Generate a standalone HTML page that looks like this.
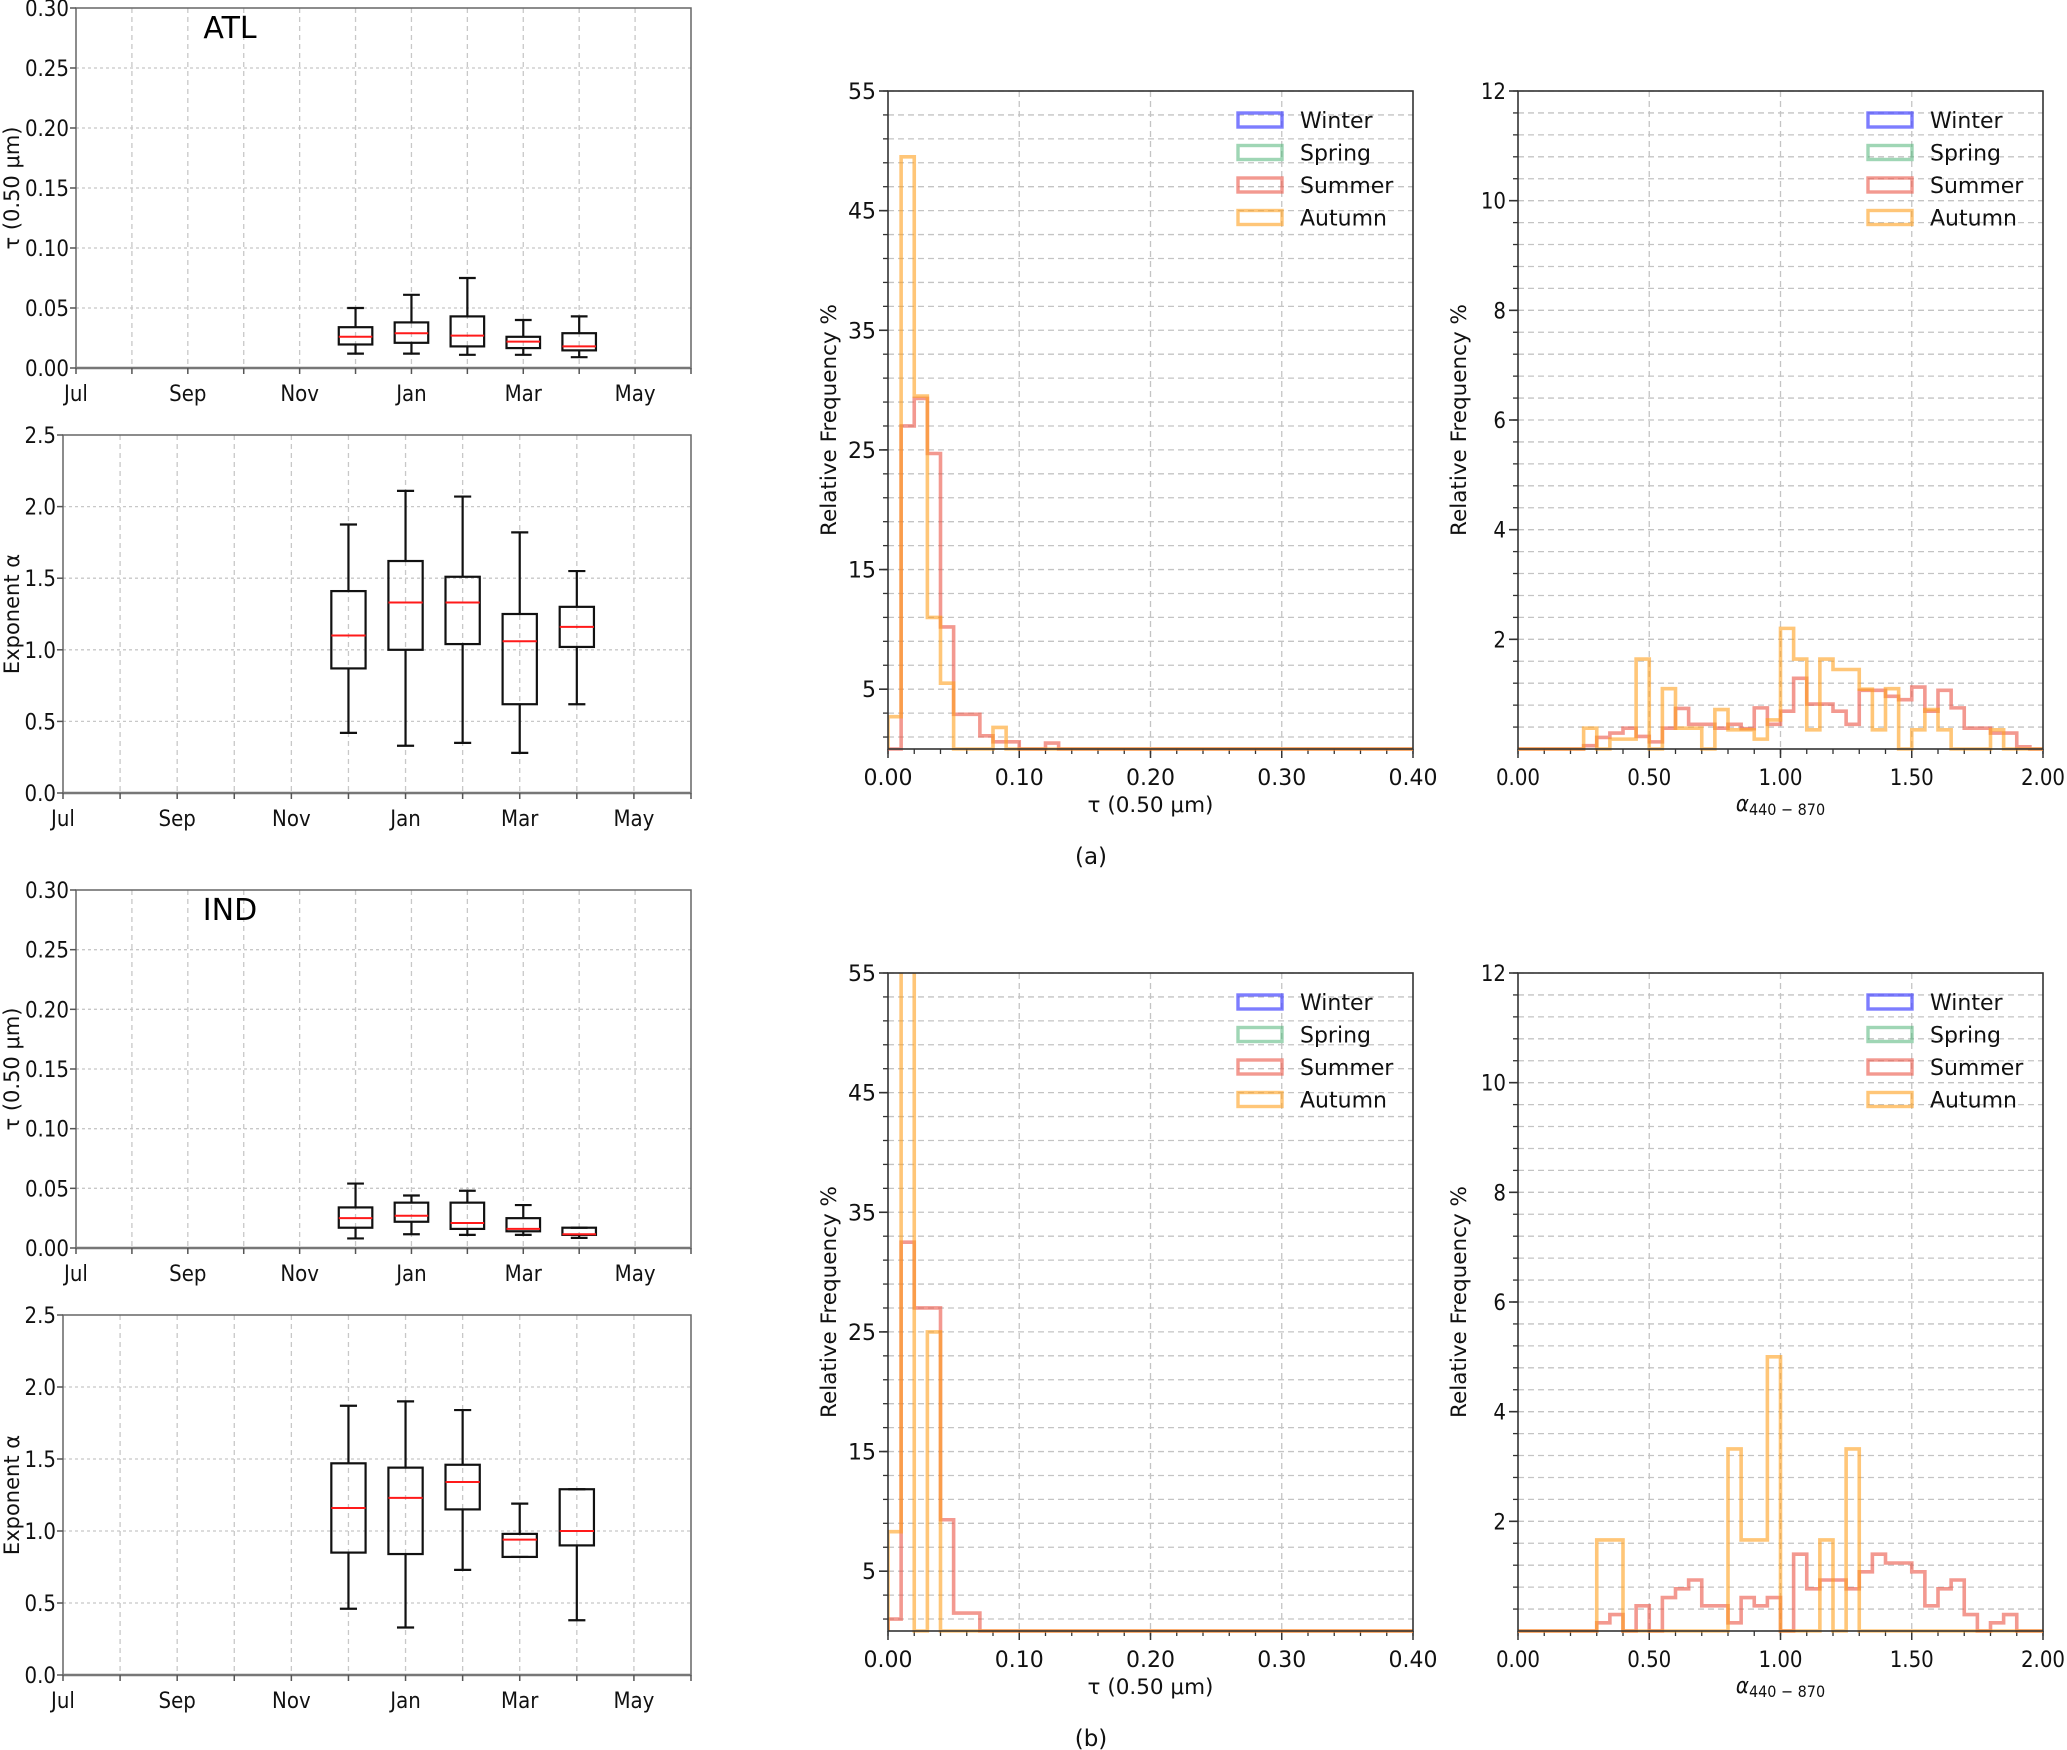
<!DOCTYPE html>
<html><head><meta charset="utf-8">
<style>
html,body{margin:0;padding:0;background:#fff;}
svg{display:block;}
.cn{font-family:"DejaVu Sans Condensed","Liberation Sans Narrow","DejaVu Sans","Liberation Sans",sans-serif;}
.dv{font-family:"DejaVu Sans","Liberation Sans",sans-serif;}
</style></head>
<body>
<svg id="fig" width="2067" height="1750" viewBox="0 0 2067 1750" xmlns="http://www.w3.org/2000/svg"></svg>
<script>
// ---------- data ----------
const monthLabels = ["Jul","Sep","Nov","Jan","Mar","May"];
const boxMonths = [5,6,7,8,9]; // Dec..Apr (months after Jul)
// box stats: [whiskerLow, q1, median, q3, whiskerHigh]
const atlTau = [[0.012,0.0196,0.026,0.034,0.050],[0.012,0.021,0.029,0.038,0.061],[0.011,0.018,0.027,0.043,0.075],[0.011,0.0166,0.022,0.026,0.040],[0.009,0.0147,0.018,0.029,0.043]];
const atlAlpha = [[0.42,0.87,1.10,1.41,1.875],[0.33,1.00,1.33,1.62,2.11],[0.35,1.04,1.33,1.51,2.07],[0.28,0.62,1.06,1.25,1.82],[0.62,1.02,1.16,1.30,1.55]];
const indTau = [[0.008,0.017,0.025,0.034,0.054],[0.0115,0.022,0.027,0.038,0.044],[0.011,0.016,0.021,0.038,0.048],[0.011,0.014,0.016,0.025,0.036],[0.0085,0.011,0.0115,0.017,0.017]];
const indAlpha = [[0.46,0.85,1.16,1.47,1.87],[0.33,0.84,1.23,1.44,1.90],[0.73,1.15,1.34,1.46,1.84],[0.82,0.82,0.94,0.98,1.19],[0.38,0.90,1.00,1.29,1.29]];

// tau histogram: 40 bins of width 0.01 over 0..0.40
const atlTauSummer = [0,27,29.3,24.7,10.2,2.9,2.9,1.1,0.6,0.6,0,0,0.5,0,0,0,0,0,0,0,0,0,0,0,0,0,0,0,0,0,0,0,0,0,0,0,0,0,0,0];
const atlTauAutumn = [2.7,49.5,29.5,11,5.5,0,0,0,1.8,0,0,0,0,0,0,0,0,0,0,0,0,0,0,0,0,0,0,0,0,0,0,0,0,0,0,0,0,0,0,0];
const indTauSummer = [1,32.5,27,27,9.3,1.5,1.5,0,0,0,0,0,0,0,0,0,0,0,0,0,0,0,0,0,0,0,0,0,0,0,0,0,0,0,0,0,0,0,0,0];
const indTauAutumn = [8.3,66,0,25,0,0,0,0,0,0,0,0,0,0,0,0,0,0,0,0,0,0,0,0,0,0,0,0,0,0,0,0,0,0,0,0,0,0,0,0];
// alpha histogram: 40 bins of width 0.05 over 0..2.0
const atlAlphaSummer = [0,0,0,0,0,0.06,0.21,0.29,0.38,0.23,0.13,0.38,0.74,0.45,0.45,0.38,0.45,0.37,0.75,0.45,0.69,1.29,0.82,0.82,0.69,0.45,1.07,1.07,0.96,0.90,1.13,0.69,1.07,0.75,0.38,0.38,0.29,0.29,0.04,0];
const atlAlphaAutumn = [0,0,0,0,0,0.38,0,0.18,0.18,1.64,0,1.10,0.38,0.38,0,0.72,0.35,0.35,0.18,0.53,2.2,1.64,0.35,1.64,1.45,1.45,1.09,0.35,1.10,0,0.35,0.72,0.35,0,0,0,0.35,0,0,0];
const indAlphaSummer = [0,0,0,0,0,0,0.15,0.30,0,0.46,0,0.61,0.77,0.93,0.46,0.46,0.15,0.61,0.46,0.61,0,1.40,0.77,0.93,0.93,0.77,1.08,1.40,1.24,1.24,1.08,0.46,0.77,0.93,0.30,0,0.15,0.30,0,0];
const indAlphaAutumn = [0,0,0,0,0,0,1.66,1.66,0,0,0,0,0,0,0,0,3.32,1.66,1.66,5.0,0,0,0,1.66,0,3.32,0,0,0,0,0,0,0,0,0,0,0,0,0,0];
const tauTicks = ["0.00","0.10","0.20","0.30","0.40"];
const alphaTicks = ["0.00","0.50","1.00","1.50","2.00"];
const freqTauTicks = [5,15,25,35,45,55];
const freqAlphaTicks = [2,4,6,8,10,12];
const seasons = ["Winter","Spring","Summer","Autumn"];

// ---------- helpers ----------
const NS="http://www.w3.org/2000/svg";
const fig=document.getElementById('fig');
function mk(tag,attrs,parent){const e=document.createElementNS(NS,tag);for(const k in attrs)e.setAttribute(k,attrs[k]);(parent||fig).appendChild(e);return e;}
function txt(s,x,y,attrs,parent){const e=mk('text',Object.assign({x:x,y:y},attrs),parent);e.textContent=s;return e;}
const seasonColors=["rgba(70,70,255,0.7)","rgba(80,180,120,0.55)","rgba(235,85,70,0.6)","rgba(255,160,30,0.6)"];

// ---------- box plot panels ----------
function boxPanel(name,L,T,R,B,ymax,ystep,ydec,stats,ylabel,title,labPad){
  const g=mk('g',{});
  
  
  const xs=m=>L+(R-L)*m/11;
  const ys=v=>B-(B-T)*v/ymax;
  for(let m=1;m<11;m++){const l=mk('line',{x1:xs(m),x2:xs(m),y1:T,y2:B,stroke:'#c8c8c8','stroke-width':1.3,'stroke-dasharray':'5,4'},g);}
  const nY=Math.round(ymax/ystep);
  for(let i=1;i<nY;i++){const l=mk('line',{x1:L,x2:R,y1:ys(i*ystep),y2:ys(i*ystep),stroke:'#c8c8c8','stroke-width':1.3,'stroke-dasharray':'3,3'},g);}
  const fr=mk('rect',{x:L,y:T,width:R-L,height:B-T,fill:'none',stroke:'#666','stroke-width':1.5},g);
  
  mk('line',{x1:L,x2:R,y1:B,y2:B,stroke:'#777','stroke-width':2.5},g);
  for(let m=0;m<=11;m++){mk('line',{x1:xs(m),x2:xs(m),y1:B,y2:B+6,stroke:'#555','stroke-width':1.5},g);}
  monthLabels.forEach((s,i)=>{const t=txt(s,xs(i*2),B+33,{'font-size':22,'text-anchor':'middle',class:'cn',fill:'#111'},g);});
  for(let i=0;i<=nY;i++){const v=i*ystep;mk('line',{x1:L-6,x2:L,y1:ys(v),y2:ys(v),stroke:'#555','stroke-width':1.5},g);
    const t=txt(v.toFixed(ydec),L-7,ys(v)+8,{'font-size':22,'text-anchor':'end',class:'cn',fill:'#111'},g);}
  const cy=(T+B)/2;
  const yl=txt(ylabel,labPad,cy,{'font-size':21,'text-anchor':'middle',class:'dv',fill:'#111',transform:`rotate(-90 ${labPad} ${cy})`},g);
  
  if(title){const tt=txt(title,L+154,T+30,{'font-size':30,'text-anchor':'middle',class:'dv',fill:'#000'},g);}
  const hw=0.3, cap=0.15;
  stats.forEach((s,i)=>{
    const m=boxMonths[i], cx=xs(m);
    const bg=mk('g',{},g);
    
    
    const st={stroke:'#111','stroke-width':2.2,fill:'none'};
    mk('line',Object.assign({x1:cx,x2:cx,y1:ys(s[0]),y2:ys(s[1])},st),bg);
    mk('line',Object.assign({x1:cx,x2:cx,y1:ys(s[3]),y2:ys(s[4])},st),bg);
    const cw=(R-L)/11*cap;
    mk('line',Object.assign({x1:cx-cw,x2:cx+cw,y1:ys(s[0]),y2:ys(s[0])},st),bg);
    mk('line',Object.assign({x1:cx-cw,x2:cx+cw,y1:ys(s[4]),y2:ys(s[4])},st),bg);
    const bw=(R-L)/11*hw;
    mk('rect',Object.assign({x:cx-bw,y:ys(s[3]),width:2*bw,height:Math.max(ys(s[1])-ys(s[3]),0.5)},st),bg);
    mk('line',{x1:cx-bw,x2:cx+bw,y1:ys(s[2]),y2:ys(s[2]),stroke:'#ff1a1a','stroke-width':2},bg);
  });
}
boxPanel('atl-tau-boxplot',76,8,691,368,0.30,0.05,2,atlTau,'τ (0.50 μm)','ATL',19);
boxPanel('atl-alpha-boxplot',63,435,691,793,2.5,0.5,1,atlAlpha,'Exponent α',null,19);
boxPanel('ind-tau-boxplot',76,890,691,1248,0.30,0.05,2,indTau,'τ (0.50 μm)','IND',19);
boxPanel('ind-alpha-boxplot',63,1315,691,1675,2.5,0.5,1,indAlpha,'Exponent α',null,19);

// ---------- histogram panels ----------
function histPanel(name,L,T,R,B,xmax,binW,ymax,yMinorStep,yMinorStart,yTicks,xTicks,xMajor,xMinor,series,xlabelKind,tickClass){
  const g=mk('g',{});
  
  
  const defs=mk('defs',{},g);
  const cid=name+'-clip';
  const cp=mk('clipPath',{id:cid},defs);
  mk('rect',{x:L,y:T,width:R-L,height:B-T+3},cp);
  const xs=v=>L+(R-L)*v/xmax;
  const ys=v=>B-(B-T)*v/ymax;
  for(let v=yMinorStart;v<=ymax+1e-9;v+=yMinorStep){const l=mk('line',{x1:L,x2:R,y1:ys(v),y2:ys(v),stroke:'#c4c4c4','stroke-width':1.3,'stroke-dasharray':'6,4'},g);
    mk('line',{x1:L-5,x2:L,y1:ys(v),y2:ys(v),stroke:'#333','stroke-width':1.3},g);}
  for(let v=xMajor;v<xmax-1e-9;v+=xMajor){const l=mk('line',{x1:xs(v),x2:xs(v),y1:T,y2:B,stroke:'#c4c4c4','stroke-width':1.3,'stroke-dasharray':'6,4'},g);}
  for(let v=0;v<=xmax+1e-9;v+=xMinor){mk('line',{x1:xs(v),x2:xs(v),y1:B,y2:B+5,stroke:'#333','stroke-width':1.3},g);}
  xTicks.forEach((s,i)=>{const v=i*xMajor;mk('line',{x1:xs(v),x2:xs(v),y1:B,y2:B+9,stroke:'#333','stroke-width':1.5},g);
    const t=txt(s,xs(v),B+36,{'font-size':22,'text-anchor':'middle',class:tickClass,fill:'#111'},g);});
  yTicks.forEach(v=>{mk('line',{x1:L-9,x2:L,y1:ys(v),y2:ys(v),stroke:'#333','stroke-width':1.6},g);
    const t=txt(String(v),L-12,ys(v)+8,{'font-size':22,'text-anchor':'end',class:tickClass,fill:'#111'},g);});
  series.forEach(sr=>{
    const vals=sr.vals;let d=`M${xs(0)},${ys(0)}`;
    vals.forEach((v,i)=>{d+=` L${xs(i*binW)},${ys(v)} L${xs((i+1)*binW)},${ys(v)}`;});
    d+=` L${xs(vals.length*binW)},${ys(0)}`;
    const p=mk('path',{d:d,fill:'none',stroke:sr.color,'stroke-width':3.6,'clip-path':`url(#${cid})`},g);
    
    
  });
  const fr=mk('rect',{x:L,y:T,width:R-L,height:B-T,fill:'none',stroke:'#333','stroke-width':1.6},g);
  
  const lx=L-52, cy=(T+B)/2;
  const yl=txt('Relative Frequency %',lx,cy,{'font-size':21.5,'text-anchor':'middle',class:'dv',fill:'#111',transform:`rotate(-90 ${lx} ${cy})`},g);
  
  const cx=(L+R)/2;
  let xl;
  if(xlabelKind==='tau'){xl=txt('τ (0.50 μm)',cx,B+63,{'font-size':21.5,'text-anchor':'middle',class:'dv',fill:'#111'},g);}
  else{xl=mk('text',{x:cx,y:B+62,'font-size':22,'text-anchor':'middle',class:'cn',fill:'#111'},g);
    const a=mk('tspan',{'font-style':'italic'},xl);a.textContent='α';
    const b=mk('tspan',{'font-size':16,dy:4},xl);b.textContent='440 − 870';}
  
  const lg=mk('g',{},g);
  
  
  seasons.forEach((s,i)=>{
    const yy=T+29+i*32.5;
    const e=mk('g',{},lg);
    
    
    mk('rect',{x:R-175,y:yy-7,width:44,height:14,fill:'none',stroke:seasonColors[i],'stroke-width':3.4},e);
    txt(s,R-113,yy+8,{'font-size':22,class:'dv',fill:'#111'},e);
  });
}
const C=seasonColors;
histPanel('atl-tau-histogram',888,91,1413,749,0.40,0.01,55,2,1,freqTauTicks,tauTicks,0.1,0.02,
  [{name:'Summer',vals:atlTauSummer,color:C[2]},{name:'Autumn',vals:atlTauAutumn,color:C[3]}],'tau','dv');
histPanel('atl-alpha-histogram',1518,91,2043,749,2.0,0.05,12,0.4,0.4,freqAlphaTicks,alphaTicks,0.5,0.1,
  [{name:'Summer',vals:atlAlphaSummer,color:C[2]},{name:'Autumn',vals:atlAlphaAutumn,color:C[3]}],'alpha','cn');
histPanel('ind-tau-histogram',888,973,1413,1631,0.40,0.01,55,2,1,freqTauTicks,tauTicks,0.1,0.02,
  [{name:'Summer',vals:indTauSummer,color:C[2]},{name:'Autumn',vals:indTauAutumn,color:C[3]}],'tau','dv');
histPanel('ind-alpha-histogram',1518,973,2043,1631,2.0,0.05,12,0.4,0.4,freqAlphaTicks,alphaTicks,0.5,0.1,
  [{name:'Summer',vals:indAlphaSummer,color:C[2]},{name:'Autumn',vals:indAlphaAutumn,color:C[3]}],'alpha','cn');

const ca=txt('(a)',1091,864,{'font-size':23,'text-anchor':'middle',class:'dv',fill:'#111'});

const cb=txt('(b)',1091,1746,{'font-size':23,'text-anchor':'middle',class:'dv',fill:'#111'});

</script>
</body></html>
